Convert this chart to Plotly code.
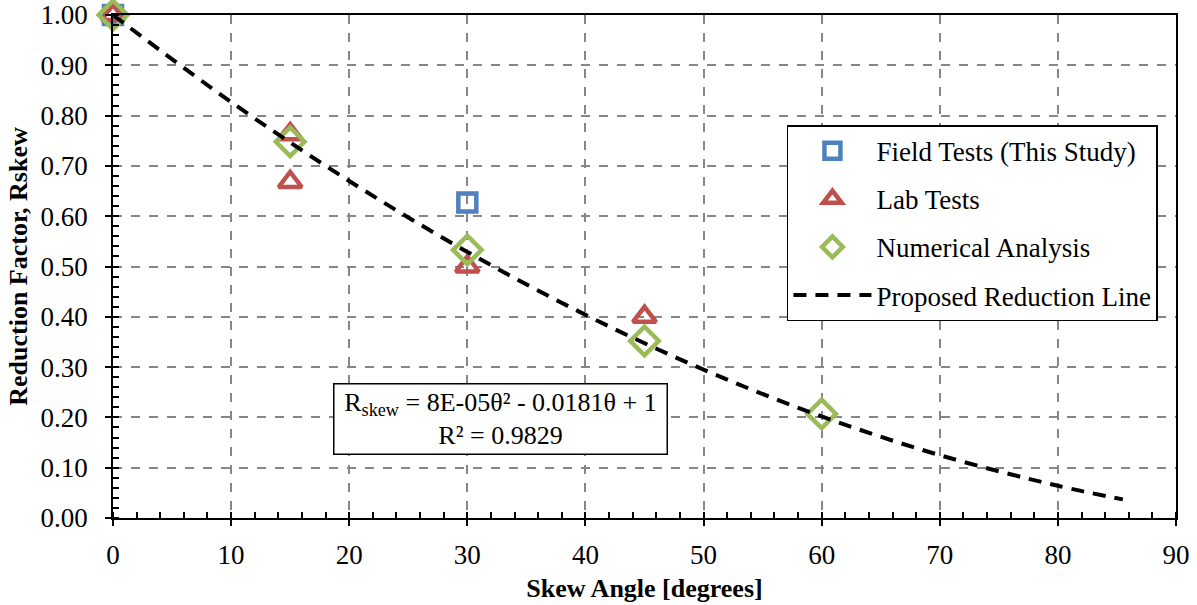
import plotly.graph_objects as go

# Data
field_x = [0, 30]
field_y = [1.00, 0.627]

lab_x = [0, 15, 15, 30, 45]
lab_y = [1.00, 0.763, 0.668, 0.500, 0.400]

num_x = [0, 15, 30, 45, 60]
num_y = [1.00, 0.748, 0.533, 0.352, 0.207]

line_x = [0, 10, 20, 30, 40, 50, 60, 70, 80, 85.5]
line_y = [1.000, 0.827, 0.670, 0.529, 0.404, 0.295, 0.202, 0.125, 0.064, 0.037]

x_ticks = [0, 10, 20, 30, 40, 50, 60, 70, 80, 90]
y_ticks = [0.0, 0.1, 0.2, 0.3, 0.4, 0.5, 0.6, 0.7, 0.8, 0.9, 1.0]

FONT = "Liberation Serif"
BLUE = "#4F81BD"
RED = "#C0504D"
GREEN = "#9BBB59"
GRID = "#878787"

fig = go.Figure()
fig.add_trace(go.Scatter(x=field_x, y=field_y, mode="markers", name="Field Tests (This Study)",
                         legendgroup="a", cliponaxis=False,
                         marker=dict(symbol="square-open", size=18, color=BLUE, line=dict(width=4.5, color=BLUE))))
fig.add_trace(go.Scatter(x=lab_x, y=lab_y, mode="markers", name="Lab Tests",
                         legendgroup="b", cliponaxis=False,
                         marker=dict(symbol="triangle-up-open", size=20, color=RED, line=dict(width=4.5, color=RED))))
fig.add_trace(go.Scatter(x=num_x, y=num_y, mode="markers", name="Numerical Analysis",
                         legendgroup="c", cliponaxis=False,
                         marker=dict(symbol="diamond-open", size=22, color=GREEN, line=dict(width=4.5, color=GREEN))))
fig.add_trace(go.Scatter(x=line_x, y=line_y, mode="lines", name="Proposed Reduction Line",
                         legendgroup="d", line_shape="spline", cliponaxis=False,
                         line=dict(color="black", width=4, dash="13px,9px")))
# empty trace that activates the overlay axes used for inward major ticks
fig.add_trace(go.Scatter(x=[], y=[], xaxis="x2", yaxis="y2", showlegend=False, hoverinfo="skip"))

fig.update_layout(
    width=1197, height=605,
    margin=dict(l=113, r=21, t=15, b=87, autoexpand=False),
    paper_bgcolor="white", plot_bgcolor="white",
    font=dict(family=FONT, size=27, color="black"),
    legend=dict(x=0.634, y=0.781, xanchor="left", yanchor="top",
                bordercolor="black", borderwidth=1.5, bgcolor="white",
                font=dict(family=FONT, size=27), tracegroupgap=10,
                traceorder="grouped", itemwidth=78),
    annotations=[dict(
        x=0.365, y=0.197, xref="paper", yref="paper", xanchor="center", yanchor="middle",
        text="R<sub>skew</sub> = 8E-05θ² - 0.0181θ + 1<br>R² = 0.9829",
        showarrow=False, font=dict(family=FONT, size=26, color="black"), width=326,
        bordercolor="black", borderwidth=1.5, bgcolor="white", borderpad=3, align="center")],
    xaxis2=dict(overlaying="x", range=[0, 90], tickvals=x_ticks, ticks="inside", ticklen=6,
                tickcolor="black", tickwidth=1.5, showticklabels=False, showgrid=False,
                zeroline=False, showline=False, automargin=False),
    yaxis2=dict(overlaying="y", range=[0, 1], tickvals=y_ticks, ticks="inside", ticklen=6,
                tickcolor="black", tickwidth=1.5, showticklabels=False, showgrid=False,
                zeroline=False, showline=False, automargin=False),
)
fig.layout.xaxis.update(
    range=[0, 90], tickvals=x_ticks, ticks="outside", ticklen=6, tickcolor="black", tickwidth=1.5,
    minor=dict(dtick=2, ticks="inside", ticklen=6, tickcolor="black", tickwidth=1.5, showgrid=False),
    showgrid=True, gridcolor=GRID, griddash="dash", gridwidth=1.5,
    showline=True, linecolor="black", linewidth=1.5, mirror=True, zeroline=False,
    automargin=False, ticklabelstandoff=6,
    title=dict(text="<b>Skew Angle [degrees]</b>", font=dict(family=FONT, size=26), standoff=10),
    tickfont=dict(family=FONT, size=27))
fig.layout.yaxis.update(
    range=[0, 1], tickvals=y_ticks, tickformat=".2f", ticks="outside", ticklen=6, tickcolor="black", tickwidth=1.5,
    minor=dict(dtick=0.02, tick0=0, ticks="inside", ticklen=6, tickcolor="black", tickwidth=1.5, showgrid=False),
    showgrid=True, gridcolor=GRID, griddash="dash", gridwidth=1.5,
    showline=True, linecolor="black", linewidth=1.5, mirror=True, zeroline=False,
    automargin=False, ticklabelstandoff=12,
    title=dict(text="<b>Reduction Factor, Rskew</b>", font=dict(family=FONT, size=26), standoff=5),
    tickfont=dict(family=FONT, size=27))

fig.write_html("out.html")
